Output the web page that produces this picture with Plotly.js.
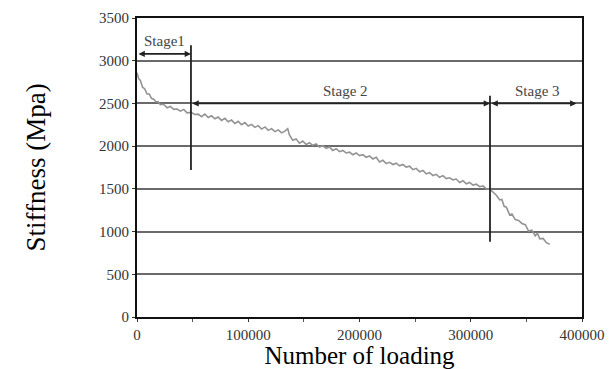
<!DOCTYPE html>
<html>
<head>
<meta charset="utf-8">
<script src="https://cdn.plot.ly/plotly-3.0.1.min.js"></script>
<style>html,body{margin:0;padding:0;background:#fff;}#chart{width:611px;height:369px;}</style>
</head>
<body>
<div id="chart"></div>
<script>
// Data
const loadingCycles = [0,1500,3000,5000,7000,9000,11000,13000,15000,17000,19000,21000,24000,27000,30000,33000,36000,39000,42000,45000,48500,52000,55000,58000,61000,64000,67000,70000,73000,76000,79000,82000,85000,88000,91000,94000,97000,100000,103000,106000,109000,112000,115000,118000,121000,124000,127000,130000,133000,135500,137000,140000,143000,146000,149000,152000,155000,158000,161000,164000,167000,170000,173000,176000,179000,182000,185000,188000,191000,194000,197000,200000,203000,206000,209000,212000,215000,218000,221000,224000,227000,230000,233000,236000,239000,242000,245000,248000,251000,254000,257000,260000,263000,266000,269000,272000,275000,278000,281000,284000,287000,290000,293000,296000,299000,302000,305000,308000,311000,314000,317300,320000,323000,326000,328000,330000,332000,335000,337000,340000,343000,346000,349000,352000,355000,358000,360000,362000,365000,368000,371000];
const stiffness = [2860,2790,2770,2690,2670,2610,2610,2560,2550,2520,2520,2485,2490,2450,2465,2430,2435,2410,2430,2390,2395,2370,2375,2345,2375,2335,2355,2320,2340,2300,2325,2285,2305,2265,2290,2250,2275,2235,2255,2220,2240,2200,2225,2185,2205,2170,2190,2155,2175,2205,2130,2070,2085,2035,2060,2020,2040,2010,2025,1990,2005,1975,1990,1950,1970,1935,1950,1920,1930,1900,1920,1890,1900,1870,1885,1850,1870,1815,1835,1795,1810,1785,1800,1770,1785,1755,1765,1725,1740,1700,1715,1675,1690,1655,1670,1635,1655,1620,1630,1605,1615,1575,1595,1560,1575,1545,1555,1525,1535,1500,1495,1465,1425,1370,1375,1295,1285,1195,1205,1140,1130,1095,1080,1005,1015,950,980,915,920,870,850];

const stageNames = ["Stage1", "Stage 2", "Stage 3"];
const stageStart = [0, 48500, 317300];
const stageEnd = [48500, 317300, 395000];
const stageArrowLevel = [3080, 2500, 2500];
const stageLabelX = [25000, 187000, 359600];
const stageLabelY = [3225, 2640, 2645];
const dividerX = [48500, 317300];
const dividerLow = [1720, 880];
const dividerHigh = [3180, 2590];

const yTicks = [0,500,1000,1500,2000,2500,3000,3500];
const xTicks = [0,100000,200000,300000,400000];

const serifFamily = "Liberation Serif";

const shapes = dividerX.map((x, i) => ({
  type: 'line', xref: 'x', yref: 'y', x0: x, x1: x, y0: dividerLow[i], y1: dividerHigh[i],
  line: {color: '#222', width: 1.8}
}));

const annotations = [];
stageNames.forEach((name, i) => {
  annotations.push({
    x: stageEnd[i], y: stageArrowLevel[i], ax: stageStart[i], ay: stageArrowLevel[i],
    xref: 'x', yref: 'y', axref: 'x', ayref: 'y', text: '',
    showarrow: true, arrowhead: 2, startarrowhead: 2, arrowside: 'end+start',
    arrowsize: 0.7, startarrowsize: 0.7, arrowwidth: 1.8, arrowcolor: '#222'
  });
  annotations.push({
    x: stageLabelX[i], y: stageLabelY[i], xref: 'x', yref: 'y', text: name,
    showarrow: false, font: {family: serifFamily, size: 15, color: '#444'}
  });
});

const data = [{
  x: loadingCycles, y: stiffness, type: 'scatter', mode: 'lines',
  line: {color: '#939393', width: 1.6}, hoverinfo: 'skip'
}];

const layout = {
  width: 611, height: 369,
  margin: {l: 137, r: 29, t: 18, b: 52},
  paper_bgcolor: '#fff', plot_bgcolor: '#fff',
  showlegend: false,
  xaxis: {
    range: [0, 400000], tickvals: xTicks, ticktext: xTicks.map(String),
    showgrid: false, zeroline: false,
    showline: true, mirror: true, linecolor: '#111', linewidth: 2,
    ticks: 'outside', ticklen: 3, tickcolor: '#333',
    minor: {dtick: 50000, ticks: 'outside', ticklen: 3, tickcolor: '#555', showgrid: false},
    tickfont: {family: serifFamily, size: 15, color: '#333'},
    title: {text: 'Number of loading', font: {family: serifFamily, size: 25, color: '#000'}, standoff: 2}
  },
  yaxis: {
    range: [0, 3500], tickvals: yTicks, ticktext: yTicks.map(String),
    showgrid: true, gridcolor: '#6a6a6a', gridwidth: 2, zeroline: false,
    showline: true, mirror: true, linecolor: '#111', linewidth: 2,
    ticks: 'outside', ticklen: 3, tickcolor: '#333',
    tickfont: {family: serifFamily, size: 15, color: '#333'},
    title: {text: 'Stiffness (Mpa)', font: {family: serifFamily, size: 27, color: '#000'}, standoff: 46}
  },
  shapes: shapes,
  annotations: annotations
};

Plotly.newPlot('chart', data, layout, {displayModeBar: false, staticPlot: true});
</script>
</body>
</html>
